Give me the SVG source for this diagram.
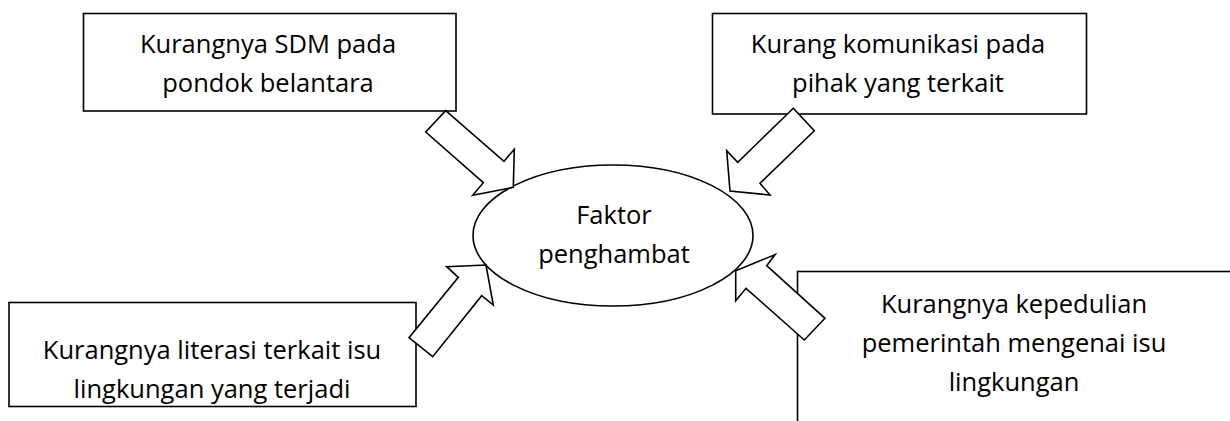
<svg xmlns="http://www.w3.org/2000/svg" width="1230" height="421" viewBox="0 0 1230 421">
<style>
.box{fill:#fff;stroke:#000;stroke-width:1.6}
.arr{fill:#fff;stroke:#000;stroke-width:1.6;stroke-linejoin:miter}
.t{font-family:"Open Sans","Noto Sans",sans-serif;font-size:25.5px;fill:#000;text-anchor:middle}
</style>
<rect width="1230" height="421" fill="#fff"/>
<g id="n1">
<rect class="box" x="83.5" y="13.5" width="372.5" height="97.5"/>
<text class="t" x="268" y="53">Kurangnya SDM pada</text>
<text class="t" x="268" y="92">pondok belantara</text>
</g>
<g id="n2">
<rect class="box" x="712.5" y="13.5" width="374" height="100.5"/>
<text class="t" x="898" y="53">Kurang komunikasi pada</text>
<text class="t" x="898" y="92">pihak yang terkait</text>
</g>
<g id="n3">
<rect class="box" x="9" y="302.5" width="407" height="104"/>
<text class="t" x="212" y="359">Kurangnya literasi terkait isu</text>
<text class="t" x="212" y="398">lingkungan yang terjadi</text>
</g>
<g id="n4">
<rect class="box" x="797.5" y="271.5" width="460" height="200"/>
<text class="t" x="1014" y="313">Kurangnya kepedulian</text>
<text class="t" x="1014" y="352">pemerintah mengenai isu</text>
<text class="t" x="1014" y="391">lingkungan</text>
</g>
<g id="center">
<ellipse class="box" cx="613" cy="235.5" rx="140" ry="70.5"/>
<text class="t" x="614" y="224">Faktor</text>
<text class="t" x="614" y="263">penghambat</text>
</g>
<g id="connectors">
<polygon class="arr" points="445.7,110.7 504,161.3 514.3,149.3 513.3,187.3 472.7,195.3 483.3,182.7 425.7,132"/>
<polygon class="arr" points="793.3,108.3 814.3,130.7 760,183.3 770,195 730,191 726.7,150.7 737.7,162.3"/>
<polygon class="arr" points="432.7,356.7 409,337.7 458.3,277.3 446.7,266.7 486,265 493.3,305 481.7,295.7"/>
<polygon class="arr" points="825,318.3 804.3,340 746,288.3 735.7,300.7 735.7,270.7 775,254.7 766.7,265.7"/>
</g>
</svg>
